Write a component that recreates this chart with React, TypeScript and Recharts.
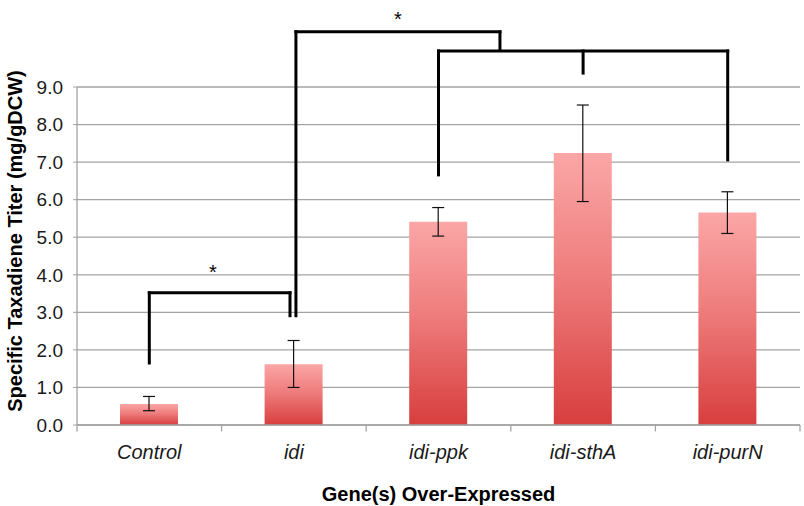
import React from "react";
import {
  ComposedChart,
  Bar,
  XAxis,
  YAxis,
  CartesianGrid,
  ErrorBar,
  ReferenceLine,
  ReferenceDot,
} from "recharts";

const genes = ["Control", "idi", "idi-ppk", "idi-sthA", "idi-purN"];
const titers = [0.56, 1.62, 5.41, 7.24, 5.66];
const errLow = [0.38, 1.0, 5.03, 5.95, 5.1];
const errHigh = [0.76, 2.25, 5.79, 8.52, 6.21];
const yTicks = [0, 1, 2, 3, 4, 5, 6, 7, 8, 9];

// significance brackets: points as [category position, titer]
const brackets = [
  [[0.5, 1.65], [0.5, 3.52], [1.473, 3.52], [1.473, 2.91]],
  [[1.514, 2.91], [1.514, 10.47], [2.925, 10.47], [2.925, 9.99]],
  [[2.5, 6.66], [2.5, 9.96], [4.5, 9.96], [4.5, 7.06]],
  [[3.5, 9.96], [3.5, 9.37]],
];
const stars = [
  [0.94, 4.18],
  [2.22, 10.92],
];
const boundaries = [0, 1, 2, 3, 4, 5];

const data = genes.map((g, i) => ({
  gene: g,
  pos: i + 0.5,
  titer: titers[i],
  err: [titers[i] - errLow[i], errHigh[i] - titers[i]],
}));

const font = "'Liberation Sans', Arial, Helvetica, sans-serif";

const Star = (props: any) => (
  <text
    x={props.cx}
    y={props.cy + 11}
    textAnchor="middle"
    fontSize={20}
    fontFamily={font}
    fill="#000"
  >
    *
  </text>
);

const App = () => {
  const segments: any[] = [];
  brackets.forEach((pts, b) => {
    for (let i = 0; i < pts.length - 1; i++) {
      segments.push(
        <ReferenceLine
          key={`br-${b}-${i}`}
          xAxisId="num"
          segment={[
            { x: pts[i][0], y: pts[i][1] },
            { x: pts[i + 1][0], y: pts[i + 1][1] },
          ]}
          stroke="#000"
          strokeWidth={3}
          strokeLinecap="square"
          ifOverflow="visible"
        />
      );
    }
  });

  return (
    <div style={{ position: "absolute", left: 0, top: 0, fontFamily: font }}>
      <ComposedChart
        width={804}
        height={506}
        data={data}
        margin={{ top: 87, right: 4, left: 0, bottom: 0 }}
        barCategoryGap={0}
      >
        <defs>
          <linearGradient id="barFill" x1="0" y1="0" x2="0" y2="1">
            <stop offset="0%" stopColor="#fba6a6" />
            <stop offset="45%" stopColor="#ef7d7d" />
            <stop offset="100%" stopColor="#d83e3e" />
          </linearGradient>
        </defs>
        <CartesianGrid vertical={false} stroke="#a3a3a3" strokeWidth={1.3} />
        <XAxis
          dataKey="gene"
          height={81}
          tickLine={false}
          axisLine={{ stroke: "#a3a3a3", strokeWidth: 1.3 }}
          tickMargin={14}
          tick={{ fontSize: 20, fill: "#1a1a1a", fontStyle: "italic", fontFamily: font }}
          label={{
            value: "Gene(s) Over-Expressed",
            position: "insideBottom",
            offset: 5,
            style: { fontSize: 20, fontWeight: "bold", fill: "#000", fontFamily: font },
          }}
        />
        <XAxis
          xAxisId="num"
          dataKey="pos"
          type="number"
          domain={[0, 5]}
          hide
          allowDataOverflow
        />
        <YAxis
          width={77}
          domain={[0, 9]}
          ticks={yTicks}
          interval={0}
          tickFormatter={(v: number) => v.toFixed(1)}
          tickSize={4}
          tickMargin={10}
          axisLine={{ stroke: "#a3a3a3", strokeWidth: 1.3 }}
          tickLine={{ stroke: "#a3a3a3" }}
          tick={{ fontSize: 19, fill: "#1a1a1a", fontFamily: font }}
          label={{
            value: "Specific Taxadiene Titer (mg/gDCW)",
            angle: -90,
            position: "insideLeft",
            offset: 0,
            dx: 15,
            dy: -15,
            style: { textAnchor: "middle", fontSize: 20, fontWeight: "bold", fill: "#000", fontFamily: font },
          }}
        />
        <Bar dataKey="titer" fill="url(#barFill)" barSize={58} isAnimationActive={false}>
          <ErrorBar dataKey="err" width={6} stroke="#111" strokeWidth={1.2} />
        </Bar>
        {boundaries.map((b) => (
          <ReferenceLine
            key={`tk-${b}`}
            xAxisId="num"
            segment={[
              { x: b, y: 0 },
              { x: b, y: -0.17 },
            ]}
            stroke="#a3a3a3"
            strokeWidth={1.3}
            ifOverflow="visible"
          />
        ))}
        {segments}
        {stars.map((s, i) => (
          <ReferenceDot
            key={`st-${i}`}
            xAxisId="num"
            x={s[0]}
            y={s[1]}
            r={0}
            ifOverflow="visible"
            shape={Star}
          />
        ))}
      </ComposedChart>
    </div>
  );
};

export default App;
